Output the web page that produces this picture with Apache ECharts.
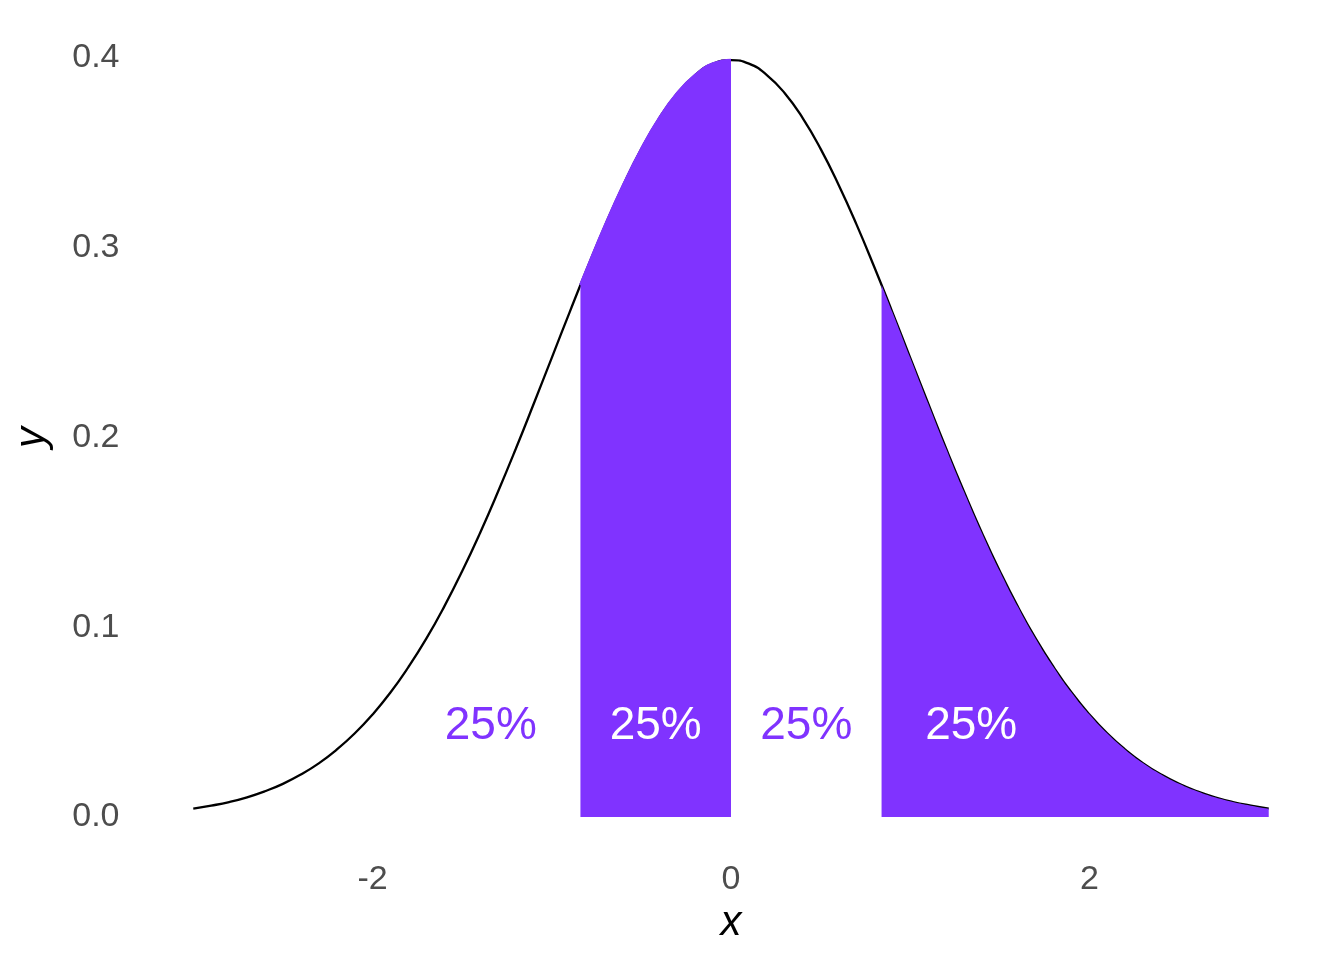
<!DOCTYPE html>
<html><head><meta charset="utf-8">
<script src="https://cdn.jsdelivr.net/npm/echarts@6/dist/echarts.min.js"></script>
<style>html,body{margin:0;padding:0;background:#fff}#c{width:1344px;height:960px}</style>
</head><body><div id="c"></div>
<script>
// Density curve (x step 0.1, from -3 to 3)
const curveX = [-3.0,-2.9,-2.8,-2.7,-2.6,-2.5,-2.4,-2.3,-2.2,-2.1,-2.0,-1.9,-1.8,-1.7,-1.6,-1.5,-1.4,-1.3,-1.2,-1.1,-1.0,-0.9,-0.8,-0.7,-0.6,-0.5,-0.4,-0.3,-0.2,-0.1,0.0,0.1,0.2,0.3,0.4,0.5,0.6,0.7,0.8,0.9,1.0,1.1,1.2,1.3,1.4,1.5,1.6,1.7,1.8,1.9,2.0,2.1,2.2,2.3,2.4,2.5,2.6,2.7,2.8,2.9,3.0];
const curveY = [0.0044,0.0060,0.0079,0.0104,0.0136,0.0175,0.0224,0.0283,0.0355,0.0440,0.0540,0.0656,0.0790,0.0940,0.1109,0.1295,0.1497,0.1714,0.1942,0.2179,0.2420,0.2661,0.2897,0.3123,0.3332,0.3521,0.3683,0.3814,0.3910,0.3970,0.3989,0.3970,0.3910,0.3814,0.3683,0.3521,0.3332,0.3123,0.2897,0.2661,0.2420,0.2179,0.1942,0.1714,0.1497,0.1295,0.1109,0.0940,0.0790,0.0656,0.0540,0.0440,0.0355,0.0283,0.0224,0.0175,0.0136,0.0104,0.0079,0.0060,0.0044];
// Shaded bands: [from, to] and curve height at the band edges
const bandLeft = [-0.84, 0.0];
const bandRight = [0.84, 3.0];
const edgeHeight = 0.2803;
// Percentage labels
const labelX = [-1.34, -0.42, 0.42, 1.34];
const labelY = [0.048, 0.048, 0.048, 0.048];
const labelText = ['25%', '25%', '25%', '25%'];
const labelOnFill = [false, true, false, true];
const xTicks = [-2, 0, 2];
const yTicks = [0, 0.1, 0.2, 0.3, 0.4];

const PURPLE = '#8033FF';
const FONT = 'Liberation Sans';

const curve = curveX.map((x, i) => [x, curveY[i]]);
function band(b) {
  const pts = [];
  if (Math.abs(b[0]) === 0.84) pts.push([b[0], edgeHeight]);
  curve.forEach(p => { if (p[0] > b[0] + 1e-9 && p[0] <= b[1] + 1e-9) pts.push(p); });
  return pts;
}

const chart = echarts.init(document.getElementById('c'), null, {renderer: 'canvas'});
chart.setOption({
  animation: false,
  backgroundColor: '#ffffff',
  grid: {left: 139.5, right: 21.5, top: 20, bottom: 105, outerBoundsMode: 'none', containLabel: false},
  xAxis: {
    type: 'value', min: -3.3, max: 3.3,
    name: 'x', nameLocation: 'middle', nameGap: 41,
    nameTextStyle: {fontFamily: FONT, fontStyle: 'italic', fontSize: 42, color: '#000'},
    axisLine: {show: false}, axisTick: {show: false}, splitLine: {show: false},
    axisLabel: {customValues: xTicks, fontFamily: FONT, fontSize: 34, color: '#4D4D4D', margin: 8}
  },
  yAxis: {
    type: 'value', min: -0.02, max: 0.42,
    name: 'y', nameLocation: 'middle', nameGap: 86,
    nameTextStyle: {fontFamily: FONT, fontStyle: 'italic', fontSize: 42, color: '#000'},
    axisLine: {show: false}, axisTick: {show: false}, splitLine: {show: false},
    axisLabel: {customValues: yTicks, fontFamily: FONT, fontSize: 34, color: '#4D4D4D', margin: 20,
      formatter: v => v.toFixed(1)}
  },
  series: [
    {type: 'line', data: curve, smooth: true, showSymbol: false, z: 2,
      lineStyle: {color: '#000', width: 2.3}},
    {type: 'line', data: band(bandLeft), smooth: true, showSymbol: false, z: 3,
      lineStyle: {color: PURPLE, width: 2.8}, areaStyle: {color: PURPLE, opacity: 1}},
    {type: 'line', data: band(bandRight), smooth: true, showSymbol: false, z: 3,
      lineStyle: {width: 0}, areaStyle: {color: PURPLE, opacity: 1}},
    {type: 'scatter', symbolSize: 0, z: 5, silent: true,
      itemStyle: {color: 'rgba(0,0,0,0)', opacity: 1},
      data: labelX.map((x, i) => ({value: [x, labelY[i]],
        label: {show: true, position: 'inside', formatter: labelText[i], fontFamily: FONT, fontSize: 46,
          opacity: 1, color: labelOnFill[i] ? '#FFFFFF' : PURPLE}}))}
  ]
});
</script></body></html>
